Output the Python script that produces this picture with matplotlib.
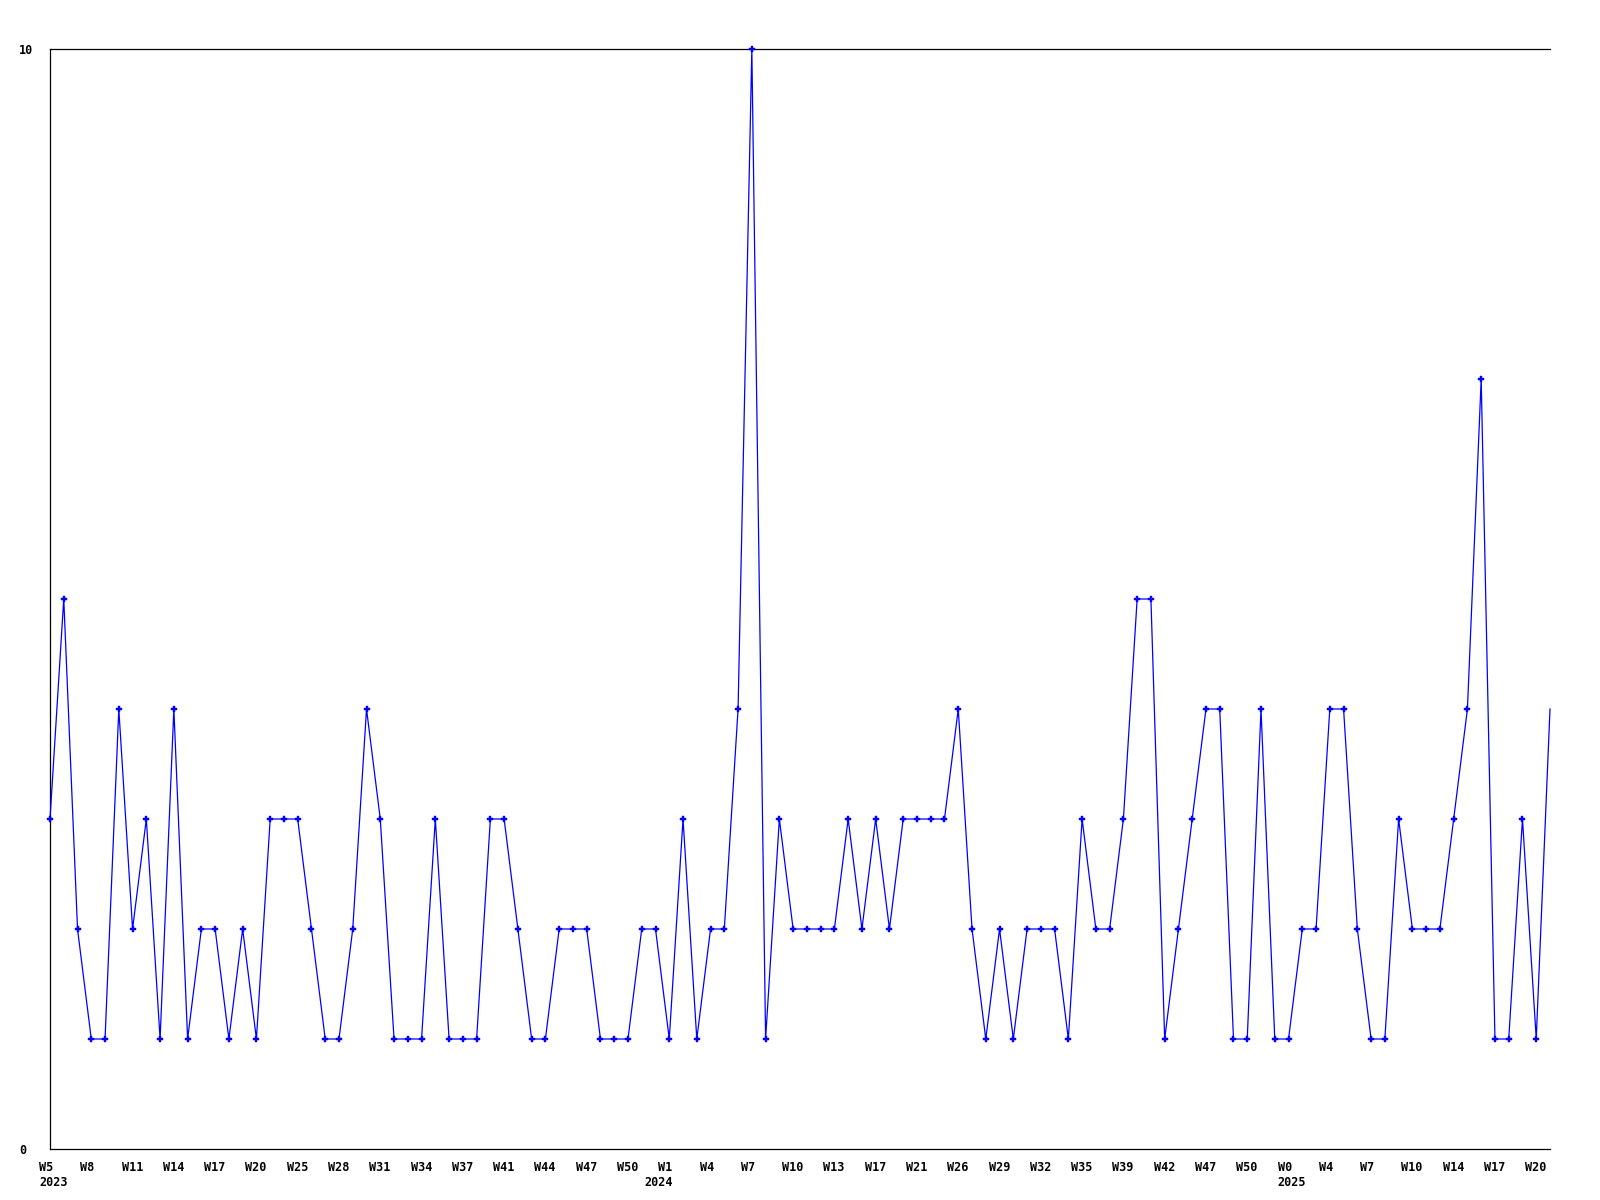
import matplotlib
matplotlib.use("Agg")
import matplotlib.pyplot as plt

values = [3, 5, 2, 1, 1, 4, 2, 3, 1, 4,
          1, 2, 2, 1, 2, 1, 3, 3, 3, 2,
          1, 1, 2, 4, 3, 1, 1, 1, 3, 1,
          1, 1, 3, 3, 2, 1, 1, 2, 2, 2,
          1, 1, 1, 2, 2, 1, 3, 1, 2, 2,
          4, 10, 1, 3, 2, 2, 2, 2, 3, 2,
          3, 2, 3, 3, 3, 3, 4, 2, 1, 2,
          1, 2, 2, 2, 1, 3, 2, 2, 3, 5,
          5, 1, 2, 3, 4, 4, 1, 1, 4, 1,
          1, 2, 2, 4, 4, 2, 1, 1, 3, 2,
          2, 2, 3, 4, 7, 1, 1, 3, 1, 4]

week_labels = ["W5", "W8", "W11", "W14", "W17", "W20", "W25", "W28", "W31", "W34",
               "W37", "W41", "W44", "W47", "W50", "W1", "W4", "W7", "W10", "W13",
               "W17", "W21", "W26", "W29", "W32", "W35", "W39", "W42", "W47", "W50",
               "W0", "W4", "W7", "W10", "W14", "W17", "W20"]
label_step = 3
year_labels = ["2023", "2024", "2025"]
year_positions = [0, 44, 90]
y_tick_values = [0, 10]

font = dict(family="DejaVu Sans Mono", weight="bold", size=8.5)

fig = plt.figure(figsize=(16, 12), dpi=100)
ax = fig.add_axes([50 / 1600, 51 / 1200, 1500 / 1600, 1100 / 1200])

x = list(range(len(values)))
ax.plot(x, values, color="#0000ff", linewidth=0.9, marker="P", markersize=4.2,
        markerfacecolor="#0000ff", markeredgecolor="#0000ff", markeredgewidth=0.3,
        markevery=list(range(len(values) - 1)), clip_on=False, zorder=3)

ax.set_xlim(0, len(values) - 1)
ax.set_ylim(0, 10)
ax.set_xticks([])
ax.set_yticks([])
for s in ["left", "bottom", "top"]:
    ax.spines[s].set_color("black")
    ax.spines[s].set_linewidth(0.9)
ax.spines["right"].set_visible(False)

for k, lab in enumerate(week_labels):
    ax.annotate(lab, xy=(k * label_step, 0), xycoords=("data", "axes fraction"),
                xytext=(-11, -12), textcoords="offset pixels",
                ha="left", va="top", **font)

for pos, lab in zip(year_positions, year_labels):
    ax.annotate(lab, xy=(pos, 0), xycoords=("data", "axes fraction"),
                xytext=(-11, -27), textcoords="offset pixels",
                ha="left", va="top", **font)

for v in y_tick_values:
    ax.annotate(str(v), xy=(0, v), xycoords=("axes fraction", "data"),
                xytext=(-31, -2), textcoords="offset pixels",
                ha="left", va="center", **font)

fig.savefig("out.png", dpi=100)
